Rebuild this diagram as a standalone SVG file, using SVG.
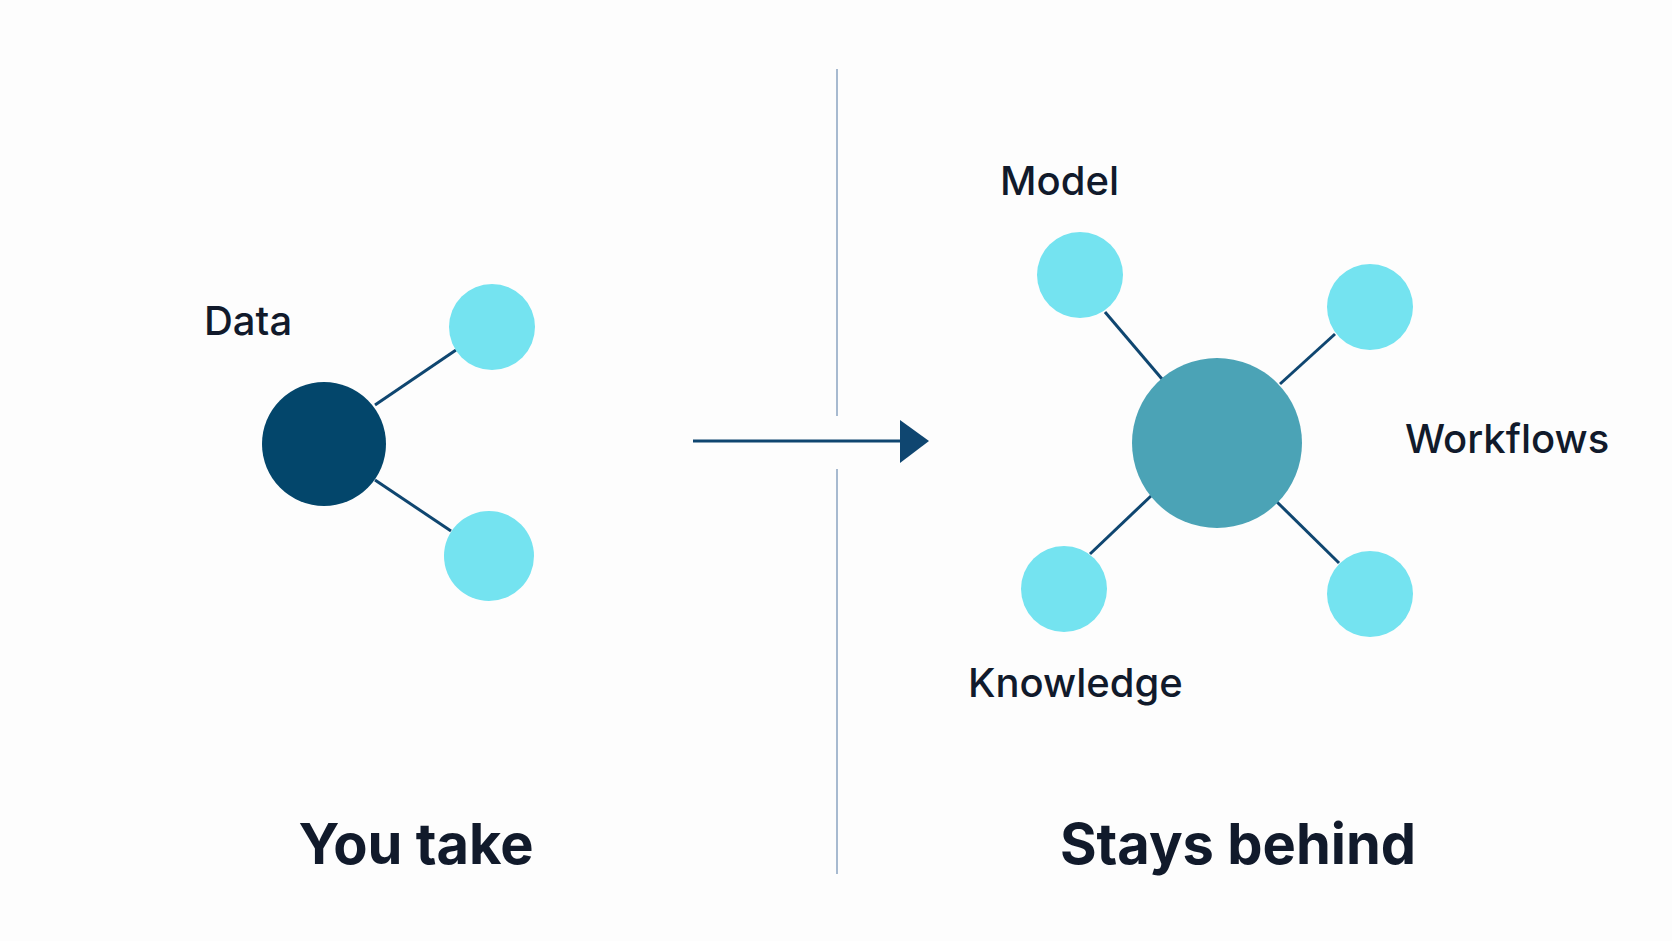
<svg xmlns="http://www.w3.org/2000/svg" width="1672" height="941" viewBox="0 0 1672 941">
<style>
.t{font-family:Inter,"Liberation Sans",sans-serif;fill:#111a2b;font-weight:500;font-size:40px}
.h{font-family:Inter,"Liberation Sans",sans-serif;fill:#111a2b;font-weight:700;font-size:56px;text-anchor:middle}
.c{stroke:#0f4670;stroke-width:3;fill:none}
.s{fill:#74e3f0}
</style>
<rect width="1672" height="941" fill="#fdfdfd"/>
<g id="connectors">
<line class="c" x1="375" y1="405" x2="456" y2="350"/>
<line class="c" x1="375" y1="480" x2="451" y2="531"/>
<line class="c" x1="1105" y1="312" x2="1162" y2="379"/>
<line class="c" x1="1335" y1="334" x2="1280" y2="384"/>
<line class="c" x1="1090" y1="554" x2="1152" y2="495"/>
<line class="c" x1="1277" y1="502" x2="1339" y2="563"/>
<line class="c" x1="693" y1="441" x2="903" y2="441"/>
<polygon points="900,420 929,441 900,463" fill="#0f4670"/>
</g>
<g id="divider"><line x1="837" y1="69" x2="837" y2="416" stroke="#8aa3c0" stroke-width="1.5"/><line x1="837" y1="469" x2="837" y2="874" stroke="#8aa3c0" stroke-width="1.5"/></g>
<g id="data"><circle cx="324" cy="444" r="62" fill="#03466b"/><text class="t" x="204" y="335">Data</text></g>
<g id="l1"><circle class="s" cx="492" cy="327" r="43"/></g>
<g id="l2"><circle class="s" cx="489" cy="556" r="45"/></g>
<g id="center"><circle cx="1217" cy="443" r="85" fill="#4ba3b6"/></g>
<g id="model"><circle class="s" cx="1080" cy="275" r="43"/><text class="t" x="1000" y="195">Model</text></g>
<g id="workflows"><circle class="s" cx="1370" cy="307" r="43"/><text class="t" x="1405" y="453">Workflows</text></g>
<g id="knowledge"><circle class="s" cx="1064" cy="589" r="43"/><text class="t" x="968" y="697">Knowledge</text></g>
<g id="n4"><circle class="s" cx="1370" cy="594" r="43"/></g>
<text class="h" x="416" y="864">You take</text>
<text class="h" x="1238" y="864">Stays behind</text>
</svg>
